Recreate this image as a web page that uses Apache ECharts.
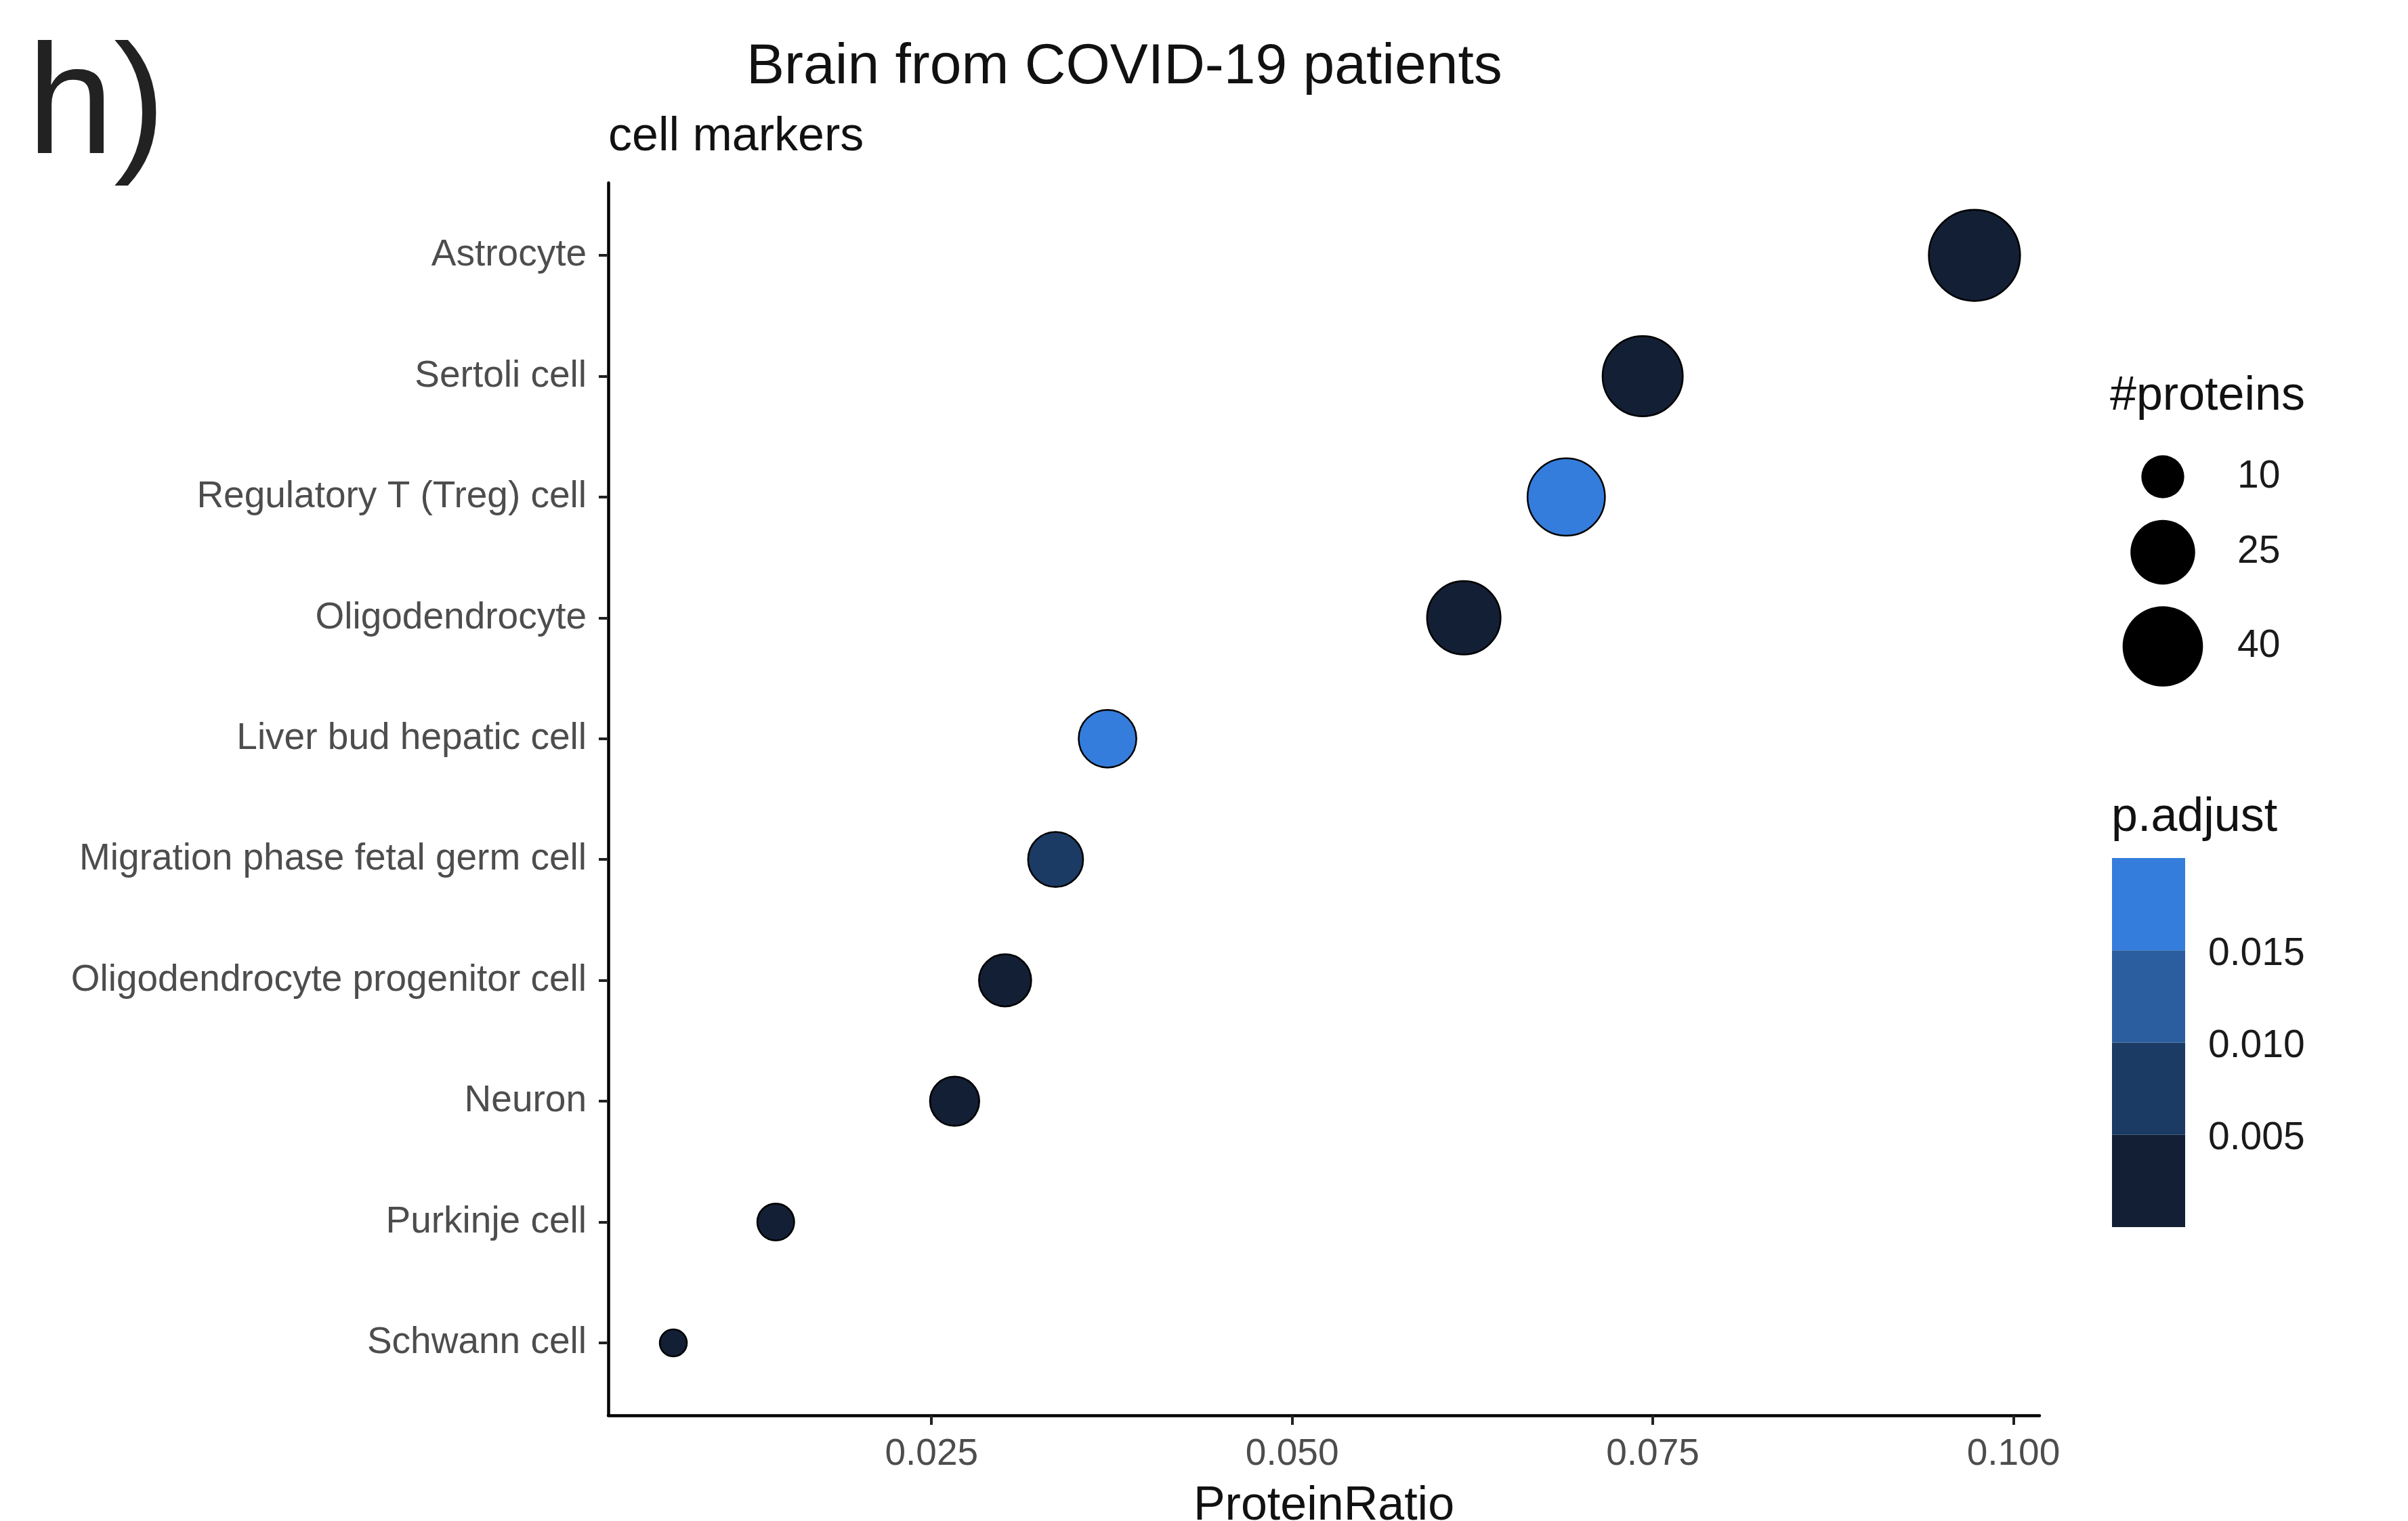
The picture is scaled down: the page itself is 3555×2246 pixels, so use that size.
<!DOCTYPE html>
<html>
<head>
<meta charset="utf-8">
<script src="https://cdn.jsdelivr.net/npm/echarts@6/dist/echarts.min.js"></script>
<style>
  html, body { margin: 0; padding: 0; background: #fff; }
  #chart { width: 3555px; height: 2246px; }
</style>
</head>
<body>
<div id="chart"></div>
<script>
// rows, listed top to bottom as in the figure
const cellTypes = [
    'Astrocyte',
    'Sertoli cell',
    'Regulatory T (Treg) cell',
    'Oligodendrocyte',
    'Liver bud hepatic cell',
    'Migration phase fetal germ cell',
    'Oligodendrocyte progenitor cell',
    'Neuron',
    'Purkinje cell',
    'Schwann cell'
];
const proteinRatio = [0.0973, 0.0743, 0.0690, 0.0619, 0.0372, 0.0336, 0.0301, 0.0266, 0.0142, 0.0071];
const proteinCount = [55, 42, 39, 35, 21, 19, 17, 15, 8, 4];
const pAdjust = [0.0006, 0.0012, 0.0185, 0.0010, 0.0190, 0.0070, 0.0015, 0.0010, 0.0020, 0.0030];

const xTicks = [0.025, 0.050, 0.075, 0.100];
const sizeBreaks = [10, 25, 40];
const padjBreaks = [0.005, 0.010, 0.015];
const padjBands = [[0, 0.005], [0.005, 0.010], [0.010, 0.015], [0.015, 0.020]];
const bandColors = ['#131f35', '#1b3a64', '#2b5e9e', '#357ddc'];

const FONT = '"Liberation Sans", Arial, sans-serif';

// point diameter grows with sqrt of the count (area scale)
function sizeOf(n) {
    return 5 + 17.5 * Math.sqrt(n);
}

// ggplot style 5% expansion of the x range
const xLo = Math.min.apply(null, proteinRatio);
const xHi = Math.max.apply(null, proteinRatio);
const xPad = (xHi - xLo) * 0.05;

const points = cellTypes.map(function (name, i) {
    return [proteinRatio[i], i, proteinCount[i], pAdjust[i], name];
});

// size legend: each key is as tall as its symbol plus some padding, like ggplot
const keyHeights = sizeBreaks.map(function (n) { return sizeOf(n) + 3 + 32; });
const keyCenters = [];
let keyAcc = 0;
keyHeights.forEach(function (h) {
    keyCenters.push(keyAcc + h / 2);
    keyAcc += h;
});
const keyTotal = keyAcc;

const chart = echarts.init(document.getElementById('chart'), null, { renderer: 'canvas' });

const option = {
    animation: false,
    backgroundColor: '#fff',
    textStyle: { fontFamily: FONT },
    title: [
        { text: 'h)', left: 40, top: 48, padding: 0,
          textStyle: { fontSize: 230, fontWeight: 'normal', color: '#222', fontFamily: FONT } },
        { text: 'Brain from COVID-19 patients', left: 1102, top: 58, padding: 0,
          textStyle: { fontSize: 84, fontWeight: 'normal', color: '#111', fontFamily: FONT } },
        { text: 'cell markers', left: 898, top: 168, padding: 0,
          textStyle: { fontSize: 70, fontWeight: 'normal', color: '#111', fontFamily: FONT } },
        { text: '#proteins', left: 3115, top: 551, padding: 0,
          textStyle: { fontSize: 70, fontWeight: 'normal', color: '#111', fontFamily: FONT } },
        { text: 'p.adjust', left: 3117, top: 1173, padding: 0,
          textStyle: { fontSize: 70, fontWeight: 'normal', color: '#111', fontFamily: FONT } }
    ],
    grid: [
        // main panel
        { left: 898, right: 544, top: 270, bottom: 156, outerBoundsMode: 'none', containLabel: false },
        // p.adjust colour bar
        { left: 3118, top: 1267, width: 108, height: 545, outerBoundsMode: 'none', containLabel: false },
        // #proteins size keys
        { left: 3150, top: 704 - keyCenters[0], width: 86, height: keyTotal, outerBoundsMode: 'none', containLabel: false }
    ],
    xAxis: [
        {
            gridIndex: 0,
            type: 'value',
            min: xLo - xPad,
            max: xHi + xPad,
            splitLine: { show: false },
            axisLine: { show: true, onZero: false, lineStyle: { color: '#000', width: 4.5 } },
            axisTick: { show: true, length: 14, customValues: xTicks, lineStyle: { color: '#222', width: 4 } },
            axisLabel: {
                customValues: xTicks,
                margin: 30,
                fontSize: 55,
                color: '#4d4d4d',
                fontFamily: FONT,
                formatter: function (v) { return v.toFixed(3); }
            },
            name: 'ProteinRatio',
            nameLocation: 'middle',
            nameGap: 100,
            nameTextStyle: { fontSize: 70, color: '#111', fontFamily: FONT }
        },
        { gridIndex: 1, type: 'category', data: ['p'], show: false, boundaryGap: true },
        { gridIndex: 2, type: 'value', min: 0, max: 1, show: false }
    ],
    yAxis: [
        {
            gridIndex: 0,
            type: 'value',
            inverse: true,
            min: -0.6,
            max: cellTypes.length - 0.4,
            splitLine: { show: false },
            axisLine: { show: true, onZero: false, lineStyle: { color: '#000', width: 4.5 } },
            axisTick: { show: true, length: 14, customValues: cellTypes.map(function (c, i) { return i; }),
                        lineStyle: { color: '#222', width: 4 } },
            axisLabel: {
                customValues: cellTypes.map(function (c, i) { return i; }),
                margin: 32,
                fontSize: 55,
                color: '#4d4d4d',
                fontFamily: FONT,
                formatter: function (v) { return cellTypes[v]; }
            }
        },
        {
            gridIndex: 1,
            type: 'value',
            min: padjBands[0][0],
            max: padjBands[padjBands.length - 1][1],
            position: 'right',
            splitLine: { show: false },
            axisLine: { show: false },
            axisTick: { show: false },
            axisLabel: {
                customValues: padjBreaks,
                margin: 34,
                verticalAlign: 'top',
                lineHeight: 12,
                fontSize: 57,
                color: '#1a1a1a',
                fontFamily: FONT,
                formatter: function (v) { return v.toFixed(3); }
            }
        },
        {
            gridIndex: 2,
            type: 'value',
            inverse: true,
            min: 0,
            max: keyTotal,
            position: 'right',
            axisLine: { show: false },
            axisTick: { show: false },
            splitLine: { show: false },
            axisLabel: {
                customValues: keyCenters,
                margin: 67,
                fontSize: 57,
                color: '#1a1a1a',
                fontFamily: FONT,
                formatter: function (v) {
                    const k = keyCenters.indexOf(v);
                    return k >= 0 ? String(sizeBreaks[k]) : '';
                }
            }
        }
    ],
    visualMap: [{
        type: 'piecewise',
        show: false,
        seriesIndex: 0,
        dimension: 3,
        pieces: padjBands.map(function (b, k) {
            return { min: b[0], max: b[1], color: bandColors[k] };
        })
    }],
    series: [
        {
            type: 'scatter',
            xAxisIndex: 0,
            yAxisIndex: 0,
            data: points,
            symbol: 'circle',
            symbolSize: function (v) { return sizeOf(v[2]); },
            itemStyle: { borderColor: '#000', borderWidth: 2.5, opacity: 1 },
            silent: true
        },
        {
            type: 'scatter',
            xAxisIndex: 2,
            yAxisIndex: 2,
            data: sizeBreaks.map(function (n, k) { return [0.5, keyCenters[k], n]; }),
            symbol: 'circle',
            symbolSize: function (v) { return sizeOf(v[2]) + 3; },
            itemStyle: { color: '#000', opacity: 1 },
            silent: true
        }
    ].concat(padjBands.map(function (b, k) {
        return {
            type: 'bar',
            xAxisIndex: 1,
            yAxisIndex: 1,
            stack: 'padj',
            barWidth: '100%',
            data: [b[1] - b[0]],
            itemStyle: { color: bandColors[k], opacity: 1 },
            silent: true
        };
    }))
};

chart.setOption(option);
</script>
</body>
</html>
